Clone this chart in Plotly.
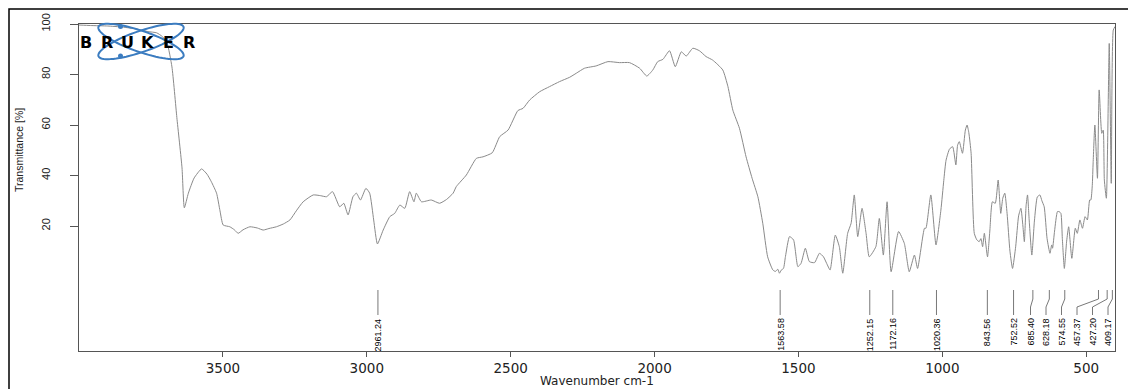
import numpy as np
import plotly.graph_objects as go

# ---- FTIR spectrum (wavenumber in cm-1, transmittance in %) ----
wavenumber = [
    4000, 3960, 3900, 3850, 3800, 3760, 3730, 3710, 3694, 3677, 3660, 3642, 3634,
    3620, 3600, 3574, 3555, 3540, 3522, 3510, 3499, 3476, 3460, 3447, 3430, 3406,
    3380, 3360, 3340, 3314, 3290, 3267, 3245, 3221, 3186, 3160, 3140, 3119, 3094,
    3080, 3065, 3048, 3036, 3022, 3003, 2990, 2976, 2963, 2943, 2920, 2903, 2885,
    2868, 2851, 2836, 2828, 2810, 2776, 2747, 2723, 2700, 2689, 2654, 2619, 2596,
    2564, 2538, 2509, 2475, 2457, 2434, 2399, 2365, 2330, 2295, 2272, 2243, 2203,
    2162, 2122, 2087, 2052, 2027, 2006, 1989, 1971, 1948, 1928, 1907, 1890, 1867,
    1844, 1821, 1798, 1763, 1745, 1728, 1705, 1682, 1661, 1641, 1624, 1607, 1589,
    1580, 1572, 1566, 1560, 1552, 1545, 1531, 1517, 1502, 1491, 1476, 1462, 1444,
    1427, 1413, 1402, 1390, 1372, 1358, 1346, 1329, 1317, 1306, 1294, 1279, 1265,
    1254, 1231, 1219, 1205, 1192, 1178, 1152, 1132, 1115, 1097, 1086, 1062, 1057,
    1040, 1022, 1005, 995, 987, 975, 964, 953, 947, 941, 930, 920, 914, 908, 900,
    889, 880, 872, 866, 860, 854, 843, 835, 826, 816, 806, 797, 790, 783, 775, 765,
    756, 745, 735, 727, 720, 715, 709, 704, 698, 689, 680, 670, 661, 654, 646, 636,
    626, 620, 617, 610, 600, 594, 588, 583, 576, 568, 561, 550, 538, 531, 522, 513,
    504, 496, 488, 484, 479, 476, 470, 461, 455, 446, 441, 437, 430, 420, 413, 406,
    400,
]
transmittance = [
    99.6, 99.4, 99.2, 98.8, 98.0, 97.0, 96.5, 95.0, 92.5, 83.0, 63.0, 43.0, 27.2,
    33.0, 39.0, 42.6, 40.5, 37.5, 33.0, 26.0, 20.4, 19.7, 18.5, 17.1, 18.5, 19.7,
    19.2, 18.4, 19.0, 19.7, 20.8, 22.4, 26.0, 29.6, 32.3, 32.0, 31.6, 33.6, 27.6,
    29.0, 24.4, 31.6, 33.0, 30.3, 34.9, 33.0, 22.4, 12.9, 18.4, 23.7, 25.0, 28.3,
    27.0, 33.6, 29.6, 33.0, 29.6, 30.3, 29.0, 30.5, 33.0, 35.6, 40.2, 46.8, 47.4,
    49.0, 55.4, 58.0, 65.7, 66.6, 69.9, 73.2, 75.2, 77.2, 78.9, 80.5, 82.5, 83.4,
    85.1, 84.7, 84.7, 82.5, 79.4, 81.8, 85.1, 86.0, 89.4, 83.1, 89.0, 87.3, 90.4,
    89.4, 87.1, 85.7, 81.8, 75.2, 65.9, 58.7, 47.4, 38.9, 31.6, 21.1, 7.8, 2.6,
    2.0, 2.9, 1.3, 2.5, 3.2, 8.0, 15.8, 14.5, 3.9, 5.2, 11.2, 5.9, 5.5,
    9.2, 7.8, 5.2, 2.6, 16.4, 11.8, 1.3, 17.1, 21.1, 32.3, 15.8, 27.0, 17.1,
    7.8, 11.8, 23.0, 8.5, 29.6, 1.9, 17.8, 13.1, 1.9, 8.5, 3.2, 19.1, 19.1,
    32.3, 12.5, 26.3, 38.0, 46.1, 50.5, 51.4, 44.2, 52.0, 53.4, 48.8, 58.0, 60.0, 57.0, 48.8,
    17.1, 14.5, 13.8, 15.0, 11.8, 17.1, 7.8, 18.0, 29.6, 29.0, 38.2, 25.0, 31.0, 33.0, 25.0, 10.0,
    3.2, 12.0, 24.0, 27.0, 20.0, 13.8, 28.0, 32.3, 22.0, 8.5, 22.0, 31.5, 32.3, 30.0, 27.6, 15.0,
    9.2, 12.5, 11.2, 18.0, 25.7, 25.7, 25.0, 15.0, 3.2, 14.0, 19.7, 7.2, 19.1, 17.1, 22.4, 19.1,
    23.7, 22.4, 30.3, 30.3, 36.0, 45.0, 60.0, 38.9, 73.9, 56.7, 58.0, 38.2, 31.0, 92.3, 36.9, 97.6,
    99.0,
]

# picked peak positions (cm-1)
peak_positions = [2961.24, 1563.58, 1252.15, 1172.16, 1020.36, 843.56, 752.52,
                  685.40, 628.18, 574.55, 457.37, 427.20, 409.17]

x_ticks = [3500, 3000, 2500, 2000, 1500, 1000, 500]
y_ticks = [20, 40, 60, 80, 100]

# ---- layout geometry ----
W, H = 1128, 389
ML, MR, MT, MB = 79, 13, 24, 38
PW, PH = W - ML - MR, H - MT - MB
X_RANGE = [4000, 400]
Y_RANGE = [-29.5, 100]
px_per_wn = PW / (X_RANGE[0] - X_RANGE[1])

NARROW = "Liberation Sans Narrow, Arial Narrow, Liberation Sans, Arial, sans-serif"
WIDE = "DejaVu Sans, Verdana, sans-serif"


def paper_x(px):
    return (px - ML) / PW


def paper_y(py):
    return (H - MB - py) / PH


def y_data(py):
    return Y_RANGE[1] - (py - MT) * (Y_RANGE[1] - Y_RANGE[0]) / PH


fig = go.Figure()

fig.add_trace(go.Scatter(
    x=wavenumber, y=transmittance, mode="lines",
    line=dict(color="#8a8a8a", width=1, shape="spline", smoothing=0.5),
    hoverinfo="skip", showlegend=False,
))

# ---- peak annotations: spread crowded labels apart, draw leader lines ----
min_gap = 15.5 / px_per_wn
right_limit = X_RANGE[0] - (1108 - ML) / px_per_wn
label_pos = {}
prev = None
for p in sorted(peak_positions):
    pos = max(p, right_limit) if prev is None else max(p, prev + min_gap)
    label_pos[p] = pos
    prev = pos

y_top, y_k1, y_k2, y_bot = y_data(290), y_data(299), y_data(307), y_data(315)
lx, ly = [], []
for p in peak_positions:
    q = label_pos[p]
    lx += [p, p, q, q, None]
    ly += [y_top, y_k1, y_k2, y_bot, None]
fig.add_trace(go.Scatter(x=lx, y=ly, mode="lines",
                         line=dict(color="#555555", width=0.8),
                         hoverinfo="skip", showlegend=False))

annotations = []
for p in peak_positions:
    annotations.append(dict(
        x=label_pos[p], y=y_data(317), xref="x", yref="y",
        text=f"{p:.2f}", textangle=-90, showarrow=False,
        xanchor="center", yanchor="top", borderpad=0,
        font=dict(family=NARROW, size=9, color="#000000"),
    ))

# axis titles
annotations.append(dict(
    x=0.5, y=paper_y(381), xref="paper", yref="paper", text="Wavenumber cm-1",
    showarrow=False, xanchor="center", yanchor="middle", borderpad=0,
    font=dict(family=WIDE, size=12, color="#222222"),
))
annotations.append(dict(
    x=paper_x(19), y=paper_y(150), xref="paper", yref="paper", text="Transmittance [%]",
    textangle=-90, showarrow=False, xanchor="center", yanchor="middle",
    font=dict(family=NARROW, size=10.5, color="#222222"),
))

# ---- BRUKER logo ----
logo_blue = "#3b7cc0"
shapes = []
cx, cy, a, b = 141, 41.5, 45, 10.5
t = np.linspace(0, 2 * np.pi, 73)
for ang in (19, -19):
    th = np.radians(ang)
    ex = cx + a * np.cos(t) * np.cos(th) - b * np.sin(t) * np.sin(th)
    ey = cy + a * np.cos(t) * np.sin(th) + b * np.sin(t) * np.cos(th)
    path = "M " + " L ".join(f"{paper_x(u):.5f},{paper_y(v):.5f}" for u, v in zip(ex, ey)) + " Z"
    shapes.append(dict(type="path", path=path, xref="paper", yref="paper",
                       line=dict(color=logo_blue, width=2), layer="above"))
for dy in (26.5, 56):
    shapes.append(dict(type="circle", xref="paper", yref="paper",
                       x0=paper_x(118), x1=paper_x(123), y0=paper_y(dy + 2.5), y1=paper_y(dy - 2.5),
                       fillcolor=logo_blue, line=dict(color=logo_blue, width=0), layer="above"))

for i, ch in enumerate("BRUKER"):
    annotations.append(dict(
        x=paper_x(86 + 20.5 * i), y=paper_y(42), xref="paper", yref="paper",
        text=f"<b>{ch}</b>", showarrow=False, xanchor="center", yanchor="middle",
        borderpad=0,
        font=dict(family=WIDE, size=16, color="#000000"),
    ))

# outer frame (left and top edges)
shapes.append(dict(type="path", xref="paper", yref="paper",
                   path=f"M {paper_x(9)},{paper_y(H + 2)} L {paper_x(9)},{paper_y(9)} L {paper_x(W + 2)},{paper_y(9)}",
                   line=dict(color="#000000", width=1.5), layer="above"))

fig.update_layout(
    width=W, height=H,
    margin=dict(l=ML, r=MR, t=MT, b=MB, pad=0),
    paper_bgcolor="white", plot_bgcolor="white",
    showlegend=False,
    xaxis=dict(
        range=X_RANGE, tickvals=x_ticks, ticktext=[str(v) for v in x_ticks],
        ticks="outside", ticklen=5, tickcolor="#555555", tickwidth=1,
        showline=True, mirror=True, linecolor="#555555", linewidth=1,
        showgrid=False, zeroline=False,
        tickfont=dict(family=WIDE, size=13.5, color="#222222"),
    ),
    yaxis=dict(
        range=Y_RANGE, tickvals=y_ticks, ticktext=[str(v) for v in y_ticks],
        ticks="outside", ticklen=8, tickcolor="#555555", tickwidth=1, tickangle=-90,
        ticklabelstandoff=16,
        showline=True, mirror=True, linecolor="#555555", linewidth=1,
        showgrid=False, zeroline=False,
        tickfont=dict(family=NARROW, size=11, color="#222222"),
    ),
    annotations=annotations,
    shapes=shapes,
)

fig.write_html("out.html")
